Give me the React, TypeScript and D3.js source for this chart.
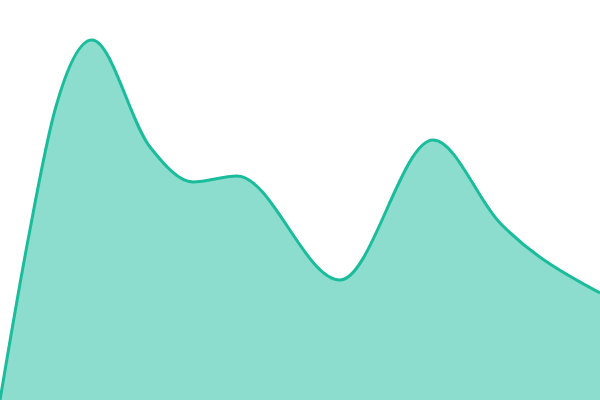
import React from "react";
import * as d3 from "d3";

const xs = [0, 28, 55, 92, 150, 193, 237, 340, 433, 500, 600];
const values = [0, 160, 290, 360, 253, 218, 224, 120, 260, 177, 107];

const W = 600;
const H = 400;

export default function App() {
  const x = d3.scaleLinear().domain([0, 600]).range([0, W]);
  const y = d3.scaleLinear().domain([0, 400]).range([H, 0]);
  const pts = xs.map((v, i) => [v, values[i]] as [number, number]);
  const area = d3
    .area<[number, number]>()
    .x((d) => x(d[0]))
    .y0(H + 5)
    .y1((d) => y(d[1]))
    .curve(d3.curveMonotoneX);
  const line = d3
    .line<[number, number]>()
    .x((d) => x(d[0]))
    .y((d) => y(d[1]))
    .curve(d3.curveMonotoneX);
  return (
    <svg
      width={W}
      height={H}
      style={{ position: "absolute", left: 0, top: 0, display: "block", background: "#fff" }}
    >
      <path d={area(pts) || ""} fill="#1abc9c" fillOpacity={0.5} stroke="none" />
      <path d={line(pts) || ""} fill="none" stroke="#1abc9c" strokeWidth={3} />
    </svg>
  );
}
